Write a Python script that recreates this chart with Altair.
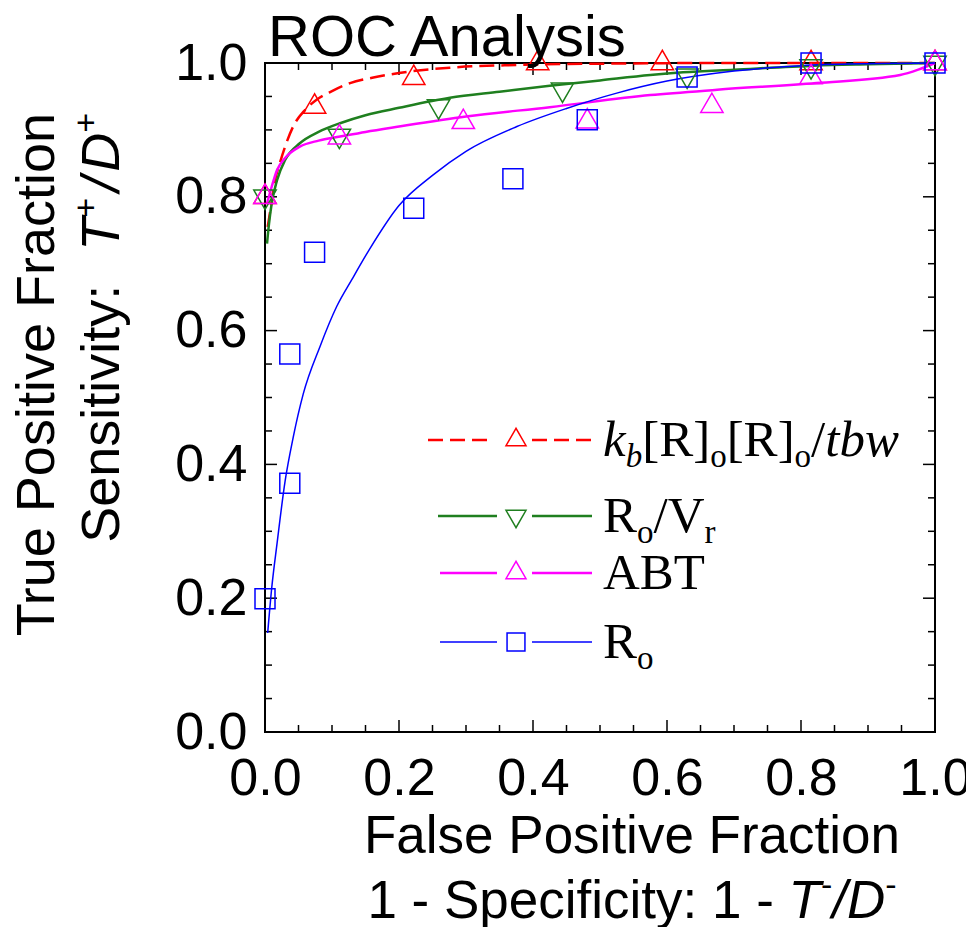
import altair as alt
import pandas as pd

# ------------------------------------------------------------------ data
series_names = ["kb", "RoVr", "ABT", "Ro"]
series_colors = ["#ff0000", "#1f7f1f", "#ff00ff", "#0000ff"]
series_shapes = ["triangle-up", "triangle-down", "triangle-up", "square"]

# measured ROC points
kb_pts_x = [0.0, 0.074, 0.222, 0.407, 0.593, 0.815, 1.0]
kb_pts_y = [0.80, 0.935, 0.978, 1.0, 1.0, 1.0, 1.0]
rovr_pts_x = [0.0, 0.111, 0.259, 0.444, 0.630, 0.815, 1.0]
rovr_pts_y = [0.80, 0.891, 0.935, 0.960, 0.981, 0.995, 1.0]
abt_pts_x = [0.0, 0.111, 0.296, 0.481, 0.667, 0.815, 1.0]
abt_pts_y = [0.80, 0.889, 0.912, 0.913, 0.936, 0.979, 1.0]
ro_pts_x = [0.0, 0.037, 0.037, 0.074, 0.222, 0.370, 0.481, 0.630, 0.815, 1.0]
ro_pts_y = [0.199, 0.372, 0.565, 0.717, 0.783, 0.827, 0.915, 0.979, 1.0, 1.0]

# fitted curves
kb_fit_x = [0.004, 0.008, 0.015, 0.022, 0.03, 0.042, 0.06, 0.077, 0.1, 0.127, 0.16, 0.2, 0.276, 0.376, 0.5, 0.7, 1.0]
kb_fit_y = [0.755, 0.78, 0.825, 0.85, 0.875, 0.905, 0.93, 0.945, 0.958, 0.97, 0.978, 0.985, 0.993, 0.997, 0.999, 1.0, 1.0]
rovr_fit_x = [0.003, 0.006, 0.01, 0.018, 0.03, 0.052, 0.08, 0.112, 0.15, 0.2, 0.276, 0.35, 0.425, 0.5, 0.575, 0.624, 0.7, 0.82, 0.9, 1.0]
rovr_fit_y = [0.73, 0.76, 0.79, 0.825, 0.855, 0.88, 0.897, 0.91, 0.922, 0.933, 0.948, 0.957, 0.966, 0.974, 0.982, 0.986, 0.99, 0.996, 0.998, 1.0]
abt_fit_x = [0.003, 0.01, 0.018, 0.03, 0.052, 0.08, 0.112, 0.15, 0.2, 0.3, 0.425, 0.575, 0.675, 0.823, 0.948, 0.975, 1.0]
abt_fit_y = [0.79, 0.815, 0.84, 0.858, 0.875, 0.884, 0.89, 0.897, 0.905, 0.92, 0.934, 0.952, 0.96, 0.97, 0.982, 0.99, 1.0]
ro_fit_x = [0.004, 0.01, 0.018, 0.03, 0.042, 0.057, 0.082, 0.107, 0.13, 0.155, 0.2, 0.25, 0.3, 0.376, 0.45, 0.525, 0.6, 0.7, 0.8, 0.9, 1.0]
ro_fit_y = [0.148, 0.215, 0.282, 0.375, 0.44, 0.505, 0.576, 0.636, 0.677, 0.72, 0.787, 0.832, 0.868, 0.905, 0.932, 0.955, 0.973, 0.988, 0.996, 0.999, 1.0]

tick_labels = [0.0, 0.2, 0.4, 0.6, 0.8, 1.0]
major_ticks = [0.2, 0.4, 0.6, 0.8]
minor_ticks = [0.05, 0.1, 0.15, 0.25, 0.3, 0.35, 0.45, 0.5, 0.55, 0.65, 0.7, 0.75, 0.85, 0.9, 0.95]

pts = [(kb_pts_x, kb_pts_y), (rovr_pts_x, rovr_pts_y), (abt_pts_x, abt_pts_y), (ro_pts_x, ro_pts_y)]
fits = [(kb_fit_x, kb_fit_y), (rovr_fit_x, rovr_fit_y), (abt_fit_x, abt_fit_y), (ro_fit_x, ro_fit_y)]

# ------------------------------------------------------------------ layout
W, H = 670, 669
SANS = "Liberation Sans"
SERIF = "Liberation Serif"

xs = alt.Scale(domain=[0, 1], nice=False, zero=False)
ys = alt.Scale(domain=[0, 1], nice=False, zero=False)
xaxis = alt.Axis(values=tick_labels, format=".1f", labelFont=SANS, labelFontSize=52,
                 labelColor="black", labelPadding=21, ticks=False, domain=False,
                 grid=False, title=None, labelFlush=False, labelOverlap=False)
yaxis = alt.Axis(values=tick_labels, format=".1f", labelFont=SANS, labelFontSize=52,
                 labelColor="black", labelPadding=18, ticks=False, domain=False,
                 grid=False, title=None, labelFlush=False, labelOverlap=False)

ARIAL = {"S": 667, "e": 556, "n": 556, "s": 500, "i": 222, "t": 278, "v": 500, "y": 500,
         ":": 278, " ": 278, "T": 611, "/": 278, "D": 722, "+": 584, "-": 333, "F": 611,
         "a": 556, "l": 222, "P": 667, "o": 556, "r": 333, "c": 500, "u": 556, "1": 556,
         "p": 556, "f": 278}
TIMES = {"[": 333, "]": 333, "R": 667, "o": 500, "/": 278, "V": 722, "r": 333, "A": 722,
         "B": 667, "T": 611, "k": 444, "b": 500, "t": 278, "w": 667}


def tw(s, table, size):
    return sum(table[c] for c in s) / 1000.0 * size


def one():
    return alt.Data(values=[{"a": 0}])


layers = []

# inward ticks on all four sides
for vals, ln in [(major_ticks, 12), (minor_ticks, 7)]:
    df = pd.DataFrame({"v": vals})
    base = alt.Chart(df).mark_rule(color="black", strokeWidth=1.5)
    layers.append(base.encode(x=alt.X("v:Q", scale=xs, axis=xaxis), y=alt.value(H), y2=alt.value(H - ln)))
    layers.append(base.encode(x=alt.X("v:Q", scale=xs, axis=xaxis), y=alt.value(0), y2=alt.value(ln)))
    layers.append(base.encode(y=alt.Y("v:Q", scale=ys, axis=yaxis), x=alt.value(0), x2=alt.value(ln)))
    layers.append(base.encode(y=alt.Y("v:Q", scale=ys, axis=yaxis), x=alt.value(W), x2=alt.value(W - ln)))

# curves and markers
widths = [2.5, 2.5, 2.5, 1.5]
dashes = [[15, 7], None, None, None]
sizes = [500, 500, 500, 400]
yoffs = [-3, 3, -3, 0]
for i, name in enumerate(series_names):
    fx, fy = fits[i]
    dfl = pd.DataFrame({"x": fx, "y": fy})
    lk = dict(color=series_colors[i], strokeWidth=widths[i], interpolate="monotone")
    if dashes[i]:
        lk["strokeDash"] = dashes[i]
    layers.append(alt.Chart(dfl).mark_line(**lk).encode(
        x=alt.X("x:Q", scale=xs, axis=xaxis), y=alt.Y("y:Q", scale=ys, axis=yaxis)))
for i, name in enumerate(series_names):
    px, py = pts[i]
    dfp = pd.DataFrame({"x": px, "y": py})
    layers.append(alt.Chart(dfp).mark_point(shape=series_shapes[i], size=sizes[i], filled=False,
                                            color=series_colors[i], strokeWidth=1.5,
                                            yOffset=yoffs[i], opacity=1).encode(
        x=alt.X("x:Q", scale=xs, axis=xaxis), y=alt.Y("y:Q", scale=ys, axis=yaxis)))

# ------------------------------------------------------------------ legend
M, S, SUB = 51, 33, 11
row_y = [377, 453, 510, 579]
seg_l = [(163, 225), (173, 232), (175, 232), (175, 232)]
seg_r = (267, 327)
mk_x = 251
legend_rows = [
    [("k", "italic", "m"), ("b", "italic", "s"), ("[R]", "normal", "m"), ("o", "normal", "s"),
     ("[R]", "normal", "m"), ("o", "normal", "s"), ("/", "normal", "m"), ("tbw", "italic", "m")],
    [("R", "normal", "m"), ("o", "normal", "s"), ("/", "normal", "m"), ("V", "normal", "m"),
     ("r", "normal", "s")],
    [("ABT", "normal", "m")],
    [("R", "normal", "m"), ("o", "normal", "s")],
]
for i, name in enumerate(series_names):
    yy = row_y[i]
    rk = dict(color=series_colors[i], strokeWidth=widths[i])
    if dashes[i]:
        rk["strokeDash"] = dashes[i]
    for a, b in [seg_l[i], seg_r]:
        layers.append(alt.Chart(one()).mark_rule(**rk).encode(
            x=alt.value(a), x2=alt.value(b), y=alt.value(yy)))
    layers.append(alt.Chart(one()).mark_point(shape=series_shapes[i], size=sizes[i] * 0.8, filled=False,
                                              color=series_colors[i], strokeWidth=1.5,
                                              opacity=1).encode(
        x=alt.value(mk_x), y=alt.value(yy + yoffs[i])))
    cx = 338
    base_y = yy + 16
    for txt, style, kind in legend_rows[i]:
        fs = M if kind == "m" else S
        by = base_y if kind == "m" else base_y + SUB
        layers.append(alt.Chart(one()).mark_text(text=txt, font=SERIF, fontSize=fs, fontStyle=style,
                                                 align="left", baseline="alphabetic", color="black").encode(
            x=alt.value(cx), y=alt.value(by)))
        cx += tw(txt, TIMES, fs)

# ------------------------------------------------------------------ titles
TF = 53
YF = 54
SUPF = 34


def text_layer(txt, x, y, size, style="normal", align="left", angle=0, font=SANS):
    kw = dict(text=txt, font=font, fontSize=size, fontStyle=style, align=align,
              baseline="alphabetic", color="black")
    if angle:
        kw["angle"] = angle
    return alt.Chart(one()).mark_text(**kw).encode(x=alt.value(x), y=alt.value(y))


layers.append(text_layer("ROC Analysis", 3, -7, 58))

# y title (rotated, both lines end at the same top position)
layers.append(text_layer("True Positive Fraction", -211, 50, YF, align="right", angle=270))
y2_pieces = [("Sensitivity:  ", "normal", "m", 4), ("T", "italic", "m", 0), ("+", "normal", "s", 6),
             ("/", "italic", "m", 5), ("D", "italic", "m", 0), ("+", "normal", "s", 0)]
tot = sum(tw(t, ARIAL, YF if k == "m" else SUPF) + g for t, s, k, g in y2_pieces)
cur = 50 + tot
for t, s, k, g in y2_pieces:
    fs = YF if k == "m" else SUPF
    bx = -146 if k == "m" else -146 - 22
    layers.append(text_layer(t, bx, cur, fs, style=s, align="left", angle=270))
    cur -= tw(t, ARIAL, fs) + g

# x title
layers.append(text_layer("False Positive Fraction", 367, 790, TF, align="center"))
x2_pieces = [("1 - Specificity: 1 - ", "normal", "m"), ("T", "italic", "m"), ("-", "normal", "s"),
             ("/", "italic", "m"), ("D", "italic", "m"), ("-", "normal", "s")]
tot = sum(tw(t, ARIAL, TF if k == "m" else SUPF) for t, s, k in x2_pieces)
cur = 367 - tot / 2
for t, s, k in x2_pieces:
    fs = TF if k == "m" else SUPF
    by = 855 if k == "m" else 855 - 22
    layers.append(text_layer(t, cur, by, fs, style=s))
    cur += tw(t, ARIAL, fs)

chart = alt.layer(*layers).properties(
    width=W, height=H,
    autosize=alt.AutoSizeParams(type="none"),
    padding={"left": 257, "top": 55, "right": 31, "bottom": 195},
).configure_view(stroke="black", strokeWidth=2)

chart.save("out.html", embed_options={"renderer": "svg", "actions": False})
